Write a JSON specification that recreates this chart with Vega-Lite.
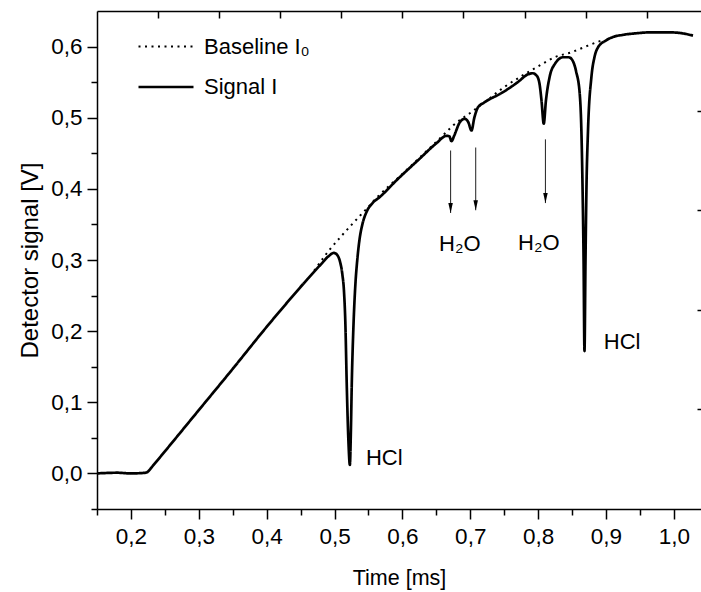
{
  "$schema": "https://vega.github.io/schema/vega-lite/v6.json",
  "width": 604,
  "height": 498,
  "autosize": {"type": "none"},
  "padding": {"left": 97, "top": 11, "right": 0, "bottom": 83},
  "background": "white",
  "config": {
    "view": {"stroke": null},
    "font": "Liberation Sans",
    "axis": {
      "labelFont": "Liberation Sans",
      "titleFont": "Liberation Sans",
      "labelColor": "black",
      "titleColor": "black",
      "tickColor": "black",
      "domainColor": "black",
      "tickWidth": 1.5,
      "domainWidth": 1.5,
      "grid": false,
      "labelFontSize": 22.5,
      "titleFontSize": 21.5,
      "titleFontWeight": "normal",
      "labelFlush": false,
      "labelOverlap": false
    }
  },
  "datasets": {
    "curves": [
      {"t": 0.150, "v": 0.000, "s": "Signal I"},
      {"t": 0.180, "v": 0.001, "s": "Signal I"},
      {"t": 0.200, "v": 0.000, "s": "Signal I"},
      {"t": 0.222, "v": 0.001, "s": "Signal I"},
      {"t": 0.2256, "v": 0.003, "s": "Signal I"},
      {"t": 0.230, "v": 0.008, "s": "Signal I"},
      {"t": 0.250, "v": 0.031, "s": "Signal I"},
      {"t": 0.300, "v": 0.089, "s": "Signal I"},
      {"t": 0.350, "v": 0.147, "s": "Signal I"},
      {"t": 0.400, "v": 0.206, "s": "Signal I"},
      {"t": 0.430, "v": 0.240, "s": "Signal I"},
      {"t": 0.460, "v": 0.273, "s": "Signal I"},
      {"t": 0.480, "v": 0.294, "s": "Signal I"},
      {"t": 0.492, "v": 0.306, "s": "Signal I"},
      {"t": 0.499, "v": 0.310, "s": "Signal I"},
      {"t": 0.504, "v": 0.307, "s": "Signal I"},
      {"t": 0.508, "v": 0.298, "s": "Signal I"},
      {"t": 0.5115, "v": 0.280, "s": "Signal I"},
      {"t": 0.5140, "v": 0.255, "s": "Signal I"},
      {"t": 0.5160, "v": 0.210, "s": "Signal I"},
      {"t": 0.5180, "v": 0.125, "s": "Signal I"},
      {"t": 0.5205, "v": 0.045, "s": "Signal I"},
      {"t": 0.5226, "v": 0.012, "s": "Signal I"},
      {"t": 0.5240, "v": 0.055, "s": "Signal I"},
      {"t": 0.5255, "v": 0.130, "s": "Signal I"},
      {"t": 0.5280, "v": 0.210, "s": "Signal I"},
      {"t": 0.5305, "v": 0.262, "s": "Signal I"},
      {"t": 0.5335, "v": 0.300, "s": "Signal I"},
      {"t": 0.5370, "v": 0.330, "s": "Signal I"},
      {"t": 0.5410, "v": 0.350, "s": "Signal I"},
      {"t": 0.5472, "v": 0.3676, "s": "Signal I"},
      {"t": 0.5560, "v": 0.380, "s": "Signal I"},
      {"t": 0.5668, "v": 0.3886, "s": "Signal I"},
      {"t": 0.5914, "v": 0.4121, "s": "Signal I"},
      {"t": 0.625, "v": 0.442, "s": "Signal I"},
      {"t": 0.650, "v": 0.464, "s": "Signal I"},
      {"t": 0.665, "v": 0.4745, "s": "Signal I"},
      {"t": 0.669, "v": 0.474, "s": "Signal I"},
      {"t": 0.6724, "v": 0.467, "s": "Signal I"},
      {"t": 0.676, "v": 0.474, "s": "Signal I"},
      {"t": 0.6846, "v": 0.4935, "s": "Signal I"},
      {"t": 0.692, "v": 0.4985, "s": "Signal I"},
      {"t": 0.697, "v": 0.494, "s": "Signal I"},
      {"t": 0.7018, "v": 0.482, "s": "Signal I"},
      {"t": 0.706, "v": 0.500, "s": "Signal I"},
      {"t": 0.7116, "v": 0.5149, "s": "Signal I"},
      {"t": 0.720, "v": 0.521, "s": "Signal I"},
      {"t": 0.7484, "v": 0.536, "s": "Signal I"},
      {"t": 0.770, "v": 0.550, "s": "Signal I"},
      {"t": 0.7850, "v": 0.561, "s": "Signal I"},
      {"t": 0.7920, "v": 0.5625, "s": "Signal I"},
      {"t": 0.798, "v": 0.559, "s": "Signal I"},
      {"t": 0.802, "v": 0.548, "s": "Signal I"},
      {"t": 0.805, "v": 0.524, "s": "Signal I"},
      {"t": 0.8083, "v": 0.4916, "s": "Signal I"},
      {"t": 0.8115, "v": 0.524, "s": "Signal I"},
      {"t": 0.8171, "v": 0.558, "s": "Signal I"},
      {"t": 0.825, "v": 0.576, "s": "Signal I"},
      {"t": 0.8367, "v": 0.585, "s": "Signal I"},
      {"t": 0.845, "v": 0.585, "s": "Signal I"},
      {"t": 0.851, "v": 0.580, "s": "Signal I"},
      {"t": 0.856, "v": 0.565, "s": "Signal I"},
      {"t": 0.8613, "v": 0.5337, "s": "Signal I"},
      {"t": 0.8638, "v": 0.480, "s": "Signal I"},
      {"t": 0.8655, "v": 0.400, "s": "Signal I"},
      {"t": 0.8670, "v": 0.300, "s": "Signal I"},
      {"t": 0.8683, "v": 0.172, "s": "Signal I"},
      {"t": 0.8698, "v": 0.300, "s": "Signal I"},
      {"t": 0.8712, "v": 0.400, "s": "Signal I"},
      {"t": 0.8735, "v": 0.482, "s": "Signal I"},
      {"t": 0.8785, "v": 0.557, "s": "Signal I"},
      {"t": 0.8830, "v": 0.585, "s": "Signal I"},
      {"t": 0.8883, "v": 0.599, "s": "Signal I"},
      {"t": 0.8990, "v": 0.608, "s": "Signal I"},
      {"t": 0.9104, "v": 0.6135, "s": "Signal I"},
      {"t": 0.9250, "v": 0.6165, "s": "Signal I"},
      {"t": 0.9448, "v": 0.6187, "s": "Signal I"},
      {"t": 0.9650, "v": 0.620, "s": "Signal I"},
      {"t": 0.9939, "v": 0.620, "s": "Signal I"},
      {"t": 1.010, "v": 0.619, "s": "Signal I"},
      {"t": 1.0282, "v": 0.6154, "s": "Signal I"},
      {"t": 0.470, "v": 0.285, "s": "Baseline I₀"},
      {"t": 0.4907, "v": 0.312, "s": "Baseline I₀"},
      {"t": 0.5104, "v": 0.334, "s": "Baseline I₀"},
      {"t": 0.5275, "v": 0.352, "s": "Baseline I₀"},
      {"t": 0.5462, "v": 0.371, "s": "Baseline I₀"},
      {"t": 0.5643, "v": 0.3896, "s": "Baseline I₀"},
      {"t": 0.600, "v": 0.421, "s": "Baseline I₀"},
      {"t": 0.630, "v": 0.448, "s": "Baseline I₀"},
      {"t": 0.665, "v": 0.480, "s": "Baseline I₀"},
      {"t": 0.6748, "v": 0.4892, "s": "Baseline I₀"},
      {"t": 0.7018, "v": 0.5079, "s": "Baseline I₀"},
      {"t": 0.720, "v": 0.521, "s": "Baseline I₀"},
      {"t": 0.750, "v": 0.543, "s": "Baseline I₀"},
      {"t": 0.780, "v": 0.561, "s": "Baseline I₀"},
      {"t": 0.8024, "v": 0.5734, "s": "Baseline I₀"},
      {"t": 0.8245, "v": 0.585, "s": "Baseline I₀"},
      {"t": 0.849, "v": 0.592, "s": "Baseline I₀"},
      {"t": 0.8735, "v": 0.6014, "s": "Baseline I₀"},
      {"t": 0.886, "v": 0.606, "s": "Baseline I₀"},
      {"t": 0.895, "v": 0.609, "s": "Baseline I₀"}
    ],
    "arrows": [
      {"t": 0.671, "top": 0.454, "tip": 0.366},
      {"t": 0.708, "top": 0.458, "tip": 0.370},
      {"t": 0.8108, "top": 0.4696, "tip": 0.380}
    ],
    "labels": [
      {"t": 0.5463, "v": 0.0123, "label": "HCl"},
      {"t": 0.8967, "v": 0.1746, "label": "HCl"},
      {"t": 0.654, "v": 0.313, "label": "H₂O"},
      {"t": 0.7705, "v": 0.314, "label": "H₂O"}
    ]
  },
  "layer": [
    {
      "data": {"name": "curves"},
      "mark": {"type": "line", "color": "black", "interpolate": "monotone"},
      "encoding": {
        "x": {
          "field": "t", "type": "quantitative",
          "scale": {"domain": [0.15, 1.04], "nice": false, "zero": false},
          "axis": {
            "orient": "bottom",
            "values": [0.2, 0.3, 0.4, 0.5, 0.6, 0.7, 0.8, 0.9, 1.0],
            "labelExpr": "replace(format(datum.value, '.1f'), '.', ',')",
            "tickSize": 10, "labelPadding": 6,
            "title": "Time [ms]", "titlePadding": 20
          }
        },
        "y": {
          "field": "v", "type": "quantitative",
          "scale": {"domain": [-0.05, 0.65], "nice": false, "zero": false},
          "axis": {
            "orient": "left",
            "values": [0, 0.1, 0.2, 0.3, 0.4, 0.5, 0.6],
            "labelExpr": "replace(format(datum.value, '.1f'), '.', ',')",
            "tickSize": 10, "labelPadding": 5,
            "title": "Detector signal [V]", "titlePadding": 8, "titleFontSize": 24
          }
        },
        "strokeDash": {
          "field": "s", "type": "nominal",
          "scale": {"domain": ["Baseline I₀", "Signal I"], "range": [[2, 4.5], [1, 0]]},
          "legend": {
            "title": null, "orient": "none", "legendX": 40, "legendY": 7,
            "symbolType": "stroke", "symbolSize": 3025, "symbolStrokeColor": "black",
            "symbolStrokeWidth": 2.2, "labelFont": "Liberation Sans", "labelFontSize": 22,
            "labelColor": "black", "labelOffset": 9, "rowPadding": -27, "padding": 0
          }
        },
        "strokeWidth": {
          "field": "s", "type": "nominal",
          "scale": {"domain": ["Baseline I₀", "Signal I"], "range": [2, 2.7]},
          "legend": null
        }
      }
    },
    {
      "data": {"name": "arrows"},
      "mark": {"type": "rule", "color": "#333333", "strokeWidth": 1.1},
      "encoding": {
        "x": {
          "field": "t", "type": "quantitative",
          "axis": {
            "orient": "bottom",
            "values": [0.15, 0.25, 0.35, 0.45, 0.55, 0.65, 0.75, 0.85, 0.95],
            "labels": false, "domain": false, "tickSize": 6, "title": null
          }
        },
        "y": {
          "field": "top", "type": "quantitative",
          "axis": {
            "orient": "left",
            "values": [-0.05, 0.05, 0.15, 0.25, 0.35, 0.45, 0.55],
            "labels": false, "domain": false, "tickSize": 6, "title": null
          }
        },
        "y2": {"field": "tip"}
      }
    },
    {
      "data": {"name": "arrows"},
      "mark": {"type": "point", "shape": "M-0.45,-1L0.45,-1L0,1Z", "filled": true, "size": 100, "color": "black", "opacity": 1, "yOffset": -5},
      "encoding": {
        "x": {
          "field": "t", "type": "quantitative",
          "axis": {
            "orient": "top",
            "values": [0.24, 0.33, 0.42, 0.51, 0.6, 0.69, 0.78, 0.87, 0.96],
            "labels": false, "domain": true, "tickSize": -7, "title": null
          }
        },
        "y": {
          "field": "tip", "type": "quantitative",
          "axis": {
            "orient": "right",
            "values": [0.09, 0.23, 0.37, 0.51],
            "labels": false, "domain": false, "tickSize": -4, "title": null
          }
        }
      }
    },
    {
      "data": {"name": "labels"},
      "mark": {"type": "text", "align": "left", "baseline": "alphabetic", "font": "Liberation Sans", "fontSize": 22, "color": "black"},
      "encoding": {
        "x": {"field": "t", "type": "quantitative", "axis": null},
        "y": {"field": "v", "type": "quantitative", "axis": null},
        "text": {"field": "label", "type": "nominal"}
      }
    }
  ],
  "resolve": {"axis": {"x": "independent", "y": "independent"}}
}
